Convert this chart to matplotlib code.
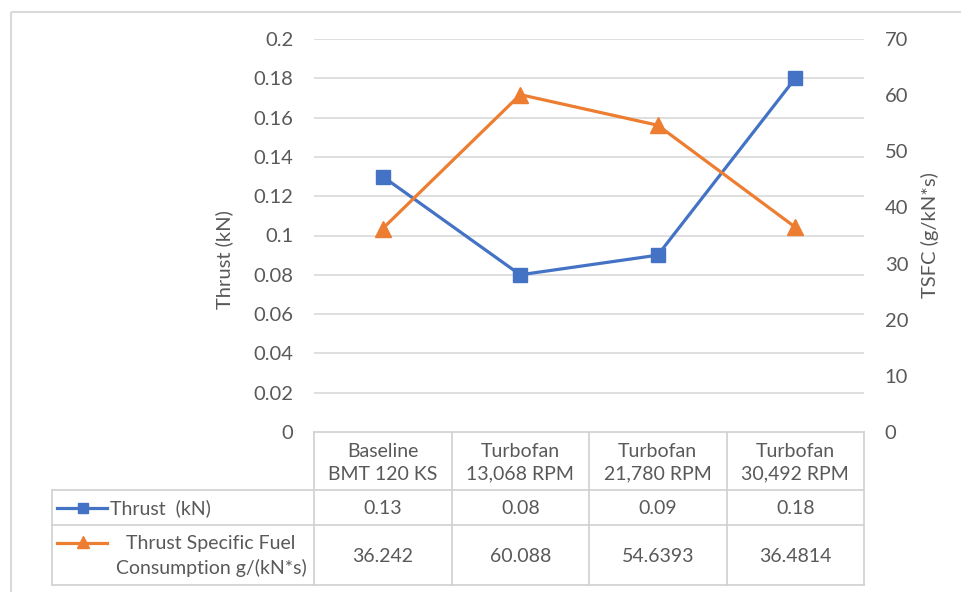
import matplotlib
matplotlib.use("Agg")
import matplotlib.pyplot as plt
from matplotlib.lines import Line2D
from matplotlib.patches import Rectangle

plt.rcParams['font.family'] = ['Lato', 'DejaVu Sans']

# data
categories = ["Baseline\nBMT 120 KS", "Turbofan\n13,068 RPM",
              "Turbofan\n21,780 RPM", "Turbofan\n30,492 RPM"]
thrust = [0.13, 0.08, 0.09, 0.18]
tsfc = [36.242, 60.088, 54.6393, 36.4814]
thrust_txt = ["0.13", "0.08", "0.09", "0.18"]
tsfc_txt = ["36.242", "60.088", "54.6393", "36.4814"]
left_ticks = [0, 0.02, 0.04, 0.06, 0.08, 0.1, 0.12, 0.14, 0.16, 0.18, 0.2]
left_ticklabels = ["0", "0.02", "0.04", "0.06", "0.08", "0.1", "0.12", "0.14", "0.16", "0.18", "0.2"]
right_ticks = [0, 10, 20, 30, 40, 50, 60, 70]

BLUE = '#4472C4'
ORANGE = '#ED7D31'
GRID = '#d9d9d9'
TXT = '#595959'
W, H = 961, 592

fig = plt.figure(figsize=(W / 100, H / 100), dpi=100)

# overlay in pixel coords for border + data table
ov = fig.add_axes([0, 0, 1, 1], zorder=0)
ov.set_xlim(0, W)
ov.set_ylim(H, 0)
ov.axis('off')
ov.add_patch(Rectangle((11, 12), 1000, 1000, fill=False, ec=GRID, lw=1.5))

# plot area in pixels
x0, x1, y_top, y_bot = 314, 864, 39, 432
ax = fig.add_axes([x0 / W, 1 - y_bot / H, (x1 - x0) / W, (y_bot - y_top) / H], zorder=2)
ax.patch.set_alpha(0)
n = len(categories)
xs = [i + 0.5 for i in range(n)]
ax.plot(xs, thrust, color=BLUE, lw=2.3, marker='s', ms=10, zorder=3)
ax.set_xlim(0, n)
ax.set_ylim(0, 0.2)
ax.set_yticks(left_ticks)
ax.set_yticklabels(left_ticklabels)
ax.set_xticks([])
ax.grid(axis='y', color=GRID, lw=1.2)
ax.set_axisbelow(True)
for s in ax.spines.values():
    s.set_visible(False)
ax.tick_params(axis='y', length=0, pad=15, labelsize=14.5, labelcolor=TXT)
ax.set_ylabel("Thrust (kN)", fontsize=14.5, color=TXT)
ax.yaxis.set_label_coords(-0.147, 0.4377)

ax2 = ax.twinx()
ax2.plot(xs, tsfc, color=ORANGE, lw=2.3, marker='^', ms=11, zorder=4)
ax2.set_ylim(0, 70)
ax2.set_yticks(right_ticks)
for s in ax2.spines.values():
    s.set_visible(False)
ax2.tick_params(axis='y', length=0, pad=15, labelsize=14.5, labelcolor=TXT)
ax2.set_ylabel("TSFC (g/kN*s)", fontsize=14.5, color=TXT)
ax2.yaxis.set_label_coords(1.1036, 0.5)

# data table
tl = 52
rows = [432, 490, 525, 585]
cols = [x0 + (x1 - x0) * i / n for i in range(n + 1)]
lc = '#d0d0d0'
ov.plot([x0, x1], [rows[0], rows[0]], color=lc, lw=1.2)
for r in rows[1:]:
    ov.plot([tl, x1], [r, r], color=lc, lw=1.2)
for c in cols:
    ov.plot([c, c], [rows[0], rows[3]], color=lc, lw=1.2)
ov.plot([tl, tl], [rows[1], rows[3]], color=lc, lw=1.2)

fs = 14
for i in range(n):
    cx = (cols[i] + cols[i + 1]) / 2
    ov.text(cx, (rows[0] + rows[1]) / 2 + 2, categories[i], ha='center', va='center',
            fontsize=fs, color=TXT, linespacing=1.4)
    ov.text(cx, (rows[1] + rows[2]) / 2 + 1, thrust_txt[i], ha='center', va='center',
            fontsize=fs, color=TXT)
    ov.text(cx, (rows[2] + rows[3]) / 2 + 1, tsfc_txt[i], ha='center', va='center',
            fontsize=fs, color=TXT)

# legend keys
yb = (rows[1] + rows[2]) / 2
ov.add_line(Line2D([57, 107], [yb, yb], color=BLUE, lw=2.3))
ov.plot([83], [yb], marker='s', ms=7.5, color=BLUE)
ov.text(110, yb + 1, "Thrust  (kN)", ha='left', va='center', fontsize=fs, color=TXT)
yo = (rows[2] + rows[3]) / 2
ov.add_line(Line2D([57, 107], [yo - 12, yo - 12], color=ORANGE, lw=2.3))
ov.plot([83], [yo - 13], marker='^', ms=8.5, color=ORANGE)
ov.text(211, yo + 1, "Thrust Specific Fuel\nConsumption g/(kN*s)", ha='center', va='center',
        fontsize=fs, color=TXT, linespacing=1.4)

fig.savefig("out.png", dpi=100)
